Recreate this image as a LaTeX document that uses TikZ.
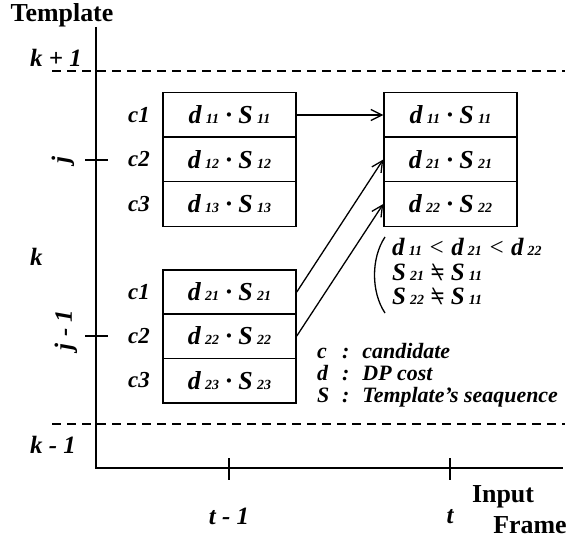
\documentclass[tikz,border=0pt]{standalone}
\usepackage{fontspec}
\setmainfont{Liberation Serif}
\usetikzlibrary{arrows.meta}
\newcommand{\idx}[1]{\,{\fontsize{14}{14}\selectfont #1}}
\newcommand{\neqx}{\smash{\ooalign{=\cr\hidewidth\reflectbox{/}\hidewidth\cr}}}
\newcommand{\dS}[1]{d\idx{#1}\ ·\ S\idx{#1}}
\begin{document}
\begin{tikzpicture}[x=1bp, y=-1bp, >={Straight Barb[length=11bp,width=11bp]},
    cell/.style={draw, line width=1.5bp, minimum width=133bp, minimum height=44.5bp, inner sep=0pt,
      font=\fontsize{26}{26}\selectfont\bfseries\itshape},
    lbl/.style={inner sep=0pt, font=\fontsize{23}{23}\selectfont\bfseries\itshape},
    cnd/.style={inner sep=0pt, font=\fontsize{25}{25}\selectfont\bfseries\itshape},
    lgd/.style={inner sep=0pt, font=\fontsize{22}{22}\selectfont\bfseries\itshape},
    axl/.style={inner sep=0pt, font=\fontsize{25}{25}\selectfont\bfseries\itshape},
    ttl/.style={inner sep=0pt, font=\fontsize{26}{26}\selectfont\bfseries}]
    \useasboundingbox (0,0) rectangle (570,543);

    % axes
    \coordinate (ytop) at (96,27);
    \coordinate (origin) at (96,468);
    \coordinate (xend) at (563,468);
    \draw[line width=1.5bp] (ytop) -- (origin) -- (xend);
    \coordinate (tj) at (96,160);
    \coordinate (tjm) at (96,336);
    \coordinate (tt) at (450,468);
    \coordinate (ttm) at (229,468);
    \foreach \c in {tj,tjm} \draw[line width=1.5bp] ([xshift=-11bp]\c) -- ([xshift=12bp]\c);
    \foreach \c in {tt,ttm} \draw[line width=1.5bp] ([yshift=10bp]\c) -- ([yshift=-12bp]\c);

    % borders k+1 and k-1
    \coordinate (ka) at (52,71);  \coordinate (kb) at (565,71);
    \coordinate (kc) at (52,424); \coordinate (kd) at (565,424);
    \draw[line width=1.5bp, dash pattern=on 9bp off 6bp] (ka) -- (kb);
    \draw[line width=1.5bp, dash pattern=on 9bp off 6bp] (kc) -- (kd);

    % axis labels
    \node[ttl, anchor=base] (tmpl) at (62,22) {Template};
    \node[ttl, anchor=base] (inp) at (503,502) {Input};
    \node[ttl, anchor=base] (frm) at (530,533) {Frame};
    \node[axl, anchor=base west] (kp) at (30,67) {k + 1};
    \node[axl, anchor=base west] (k) at (30,265) {k};
    \node[axl, anchor=base west] (km) at (30,453) {k - 1};
    \node[axl, rotate=90] (j) at (63,160) {j};
    \node[axl, rotate=90] (jm) at (66,330) {j - 1};
    \node[axl, anchor=base] (t) at (450,523) {t};
    \node[axl, anchor=base] (tm) at (229,524) {t - 1};

    % candidates at j
    \node[cell] (a1) at (229.5,115) {\dS{11}};
    \node[cell] (a2) at (229.5,159.5) {\dS{12}};
    \node[cell] (a3) at (229.5,204) {\dS{13}};
    % candidates at j-1
    \node[cell] (b1) at (229.5,292) {\dS{21}};
    \node[cell] (b2) at (229.5,336) {\dS{22}};
    \node[cell] (b3) at (229.5,380.5) {\dS{23}};
    % result at t
    \node[cell] (r1) at (450.5,115) {\dS{11}};
    \node[cell] (r2) at (450.5,159.5) {\dS{21}};
    \node[cell] (r3) at (450.5,204) {\dS{22}};

    \foreach \n/\y in {1/115,2/159.5,3/204} \node[lbl] (ca\n) at (139,\y) {c\n};
    \foreach \n/\y in {1/292,2/336,3/380.5} \node[lbl] (cb\n) at (139,\y) {c\n};

    \draw[->, line width=1.3bp] (a1.east) -- (r1.west);
    \draw[->, line width=1.3bp] (b1.east) -- (r2.west);
    \draw[->, line width=1.3bp] (b2.east) -- (r3.west);

    % conditions
    \draw[line width=1.3bp] (385,237) .. controls (371,258) and (371,292) .. (385,313);
    \node[cnd, anchor=base west] (cond1) at (392,255) {d\idx{11} {\mdseries <}\ d\idx{21} {\mdseries <}\ d\idx{22}};
    \node[cnd, anchor=base west] (cond2) at (392,280) {S\idx{21} \neqx\ S\idx{11}};
    \node[cnd, anchor=base west] (cond3) at (392,304) {S\idx{22} \neqx\ S\idx{11}};

    % legend
    \node[lgd, anchor=base west] (lc) at (317,358) {\makebox[25bp][l]{c}:\hspace{13bp}candidate};
    \node[lgd, anchor=base west] (ld) at (317,380) {\makebox[25bp][l]{d}:\hspace{13bp}DP cost};
    \node[lgd, anchor=base west] (ls) at (317,402) {\makebox[25bp][l]{S}:\hspace{13bp}Template’s seaquence};
\end{tikzpicture}
\end{document}
